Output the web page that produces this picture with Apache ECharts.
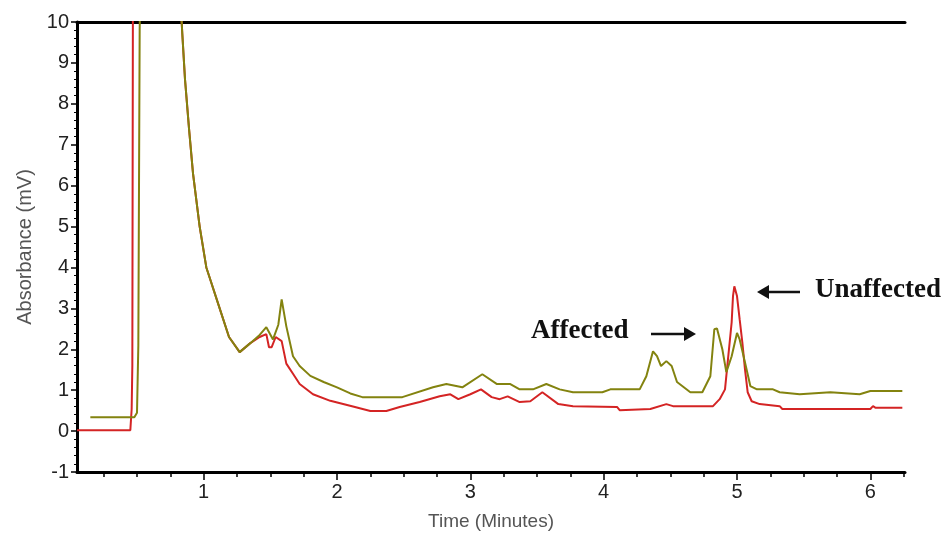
<!DOCTYPE html>
<html>
<head>
<meta charset="utf-8">
<title>Chromatogram</title>
<script src="https://cdn.jsdelivr.net/npm/echarts/dist/echarts.min.js"></script>
<style>
  html, body { margin: 0; padding: 0; background: #fff; }
</style>
</head>
<body>
<div id="main" style="width: 948px; height: 536px;"></div>
<script type="text/javascript">
// time (minutes) / absorbance (mV)
var greenTime = [0.15, 0.48, 0.50, 0.51, 0.52, 0.53, 0.82, 0.835, 0.84, 0.86, 0.89, 0.92, 0.97, 1.02, 1.05, 1.12, 1.19, 1.27, 1.35, 1.42, 1.47, 1.52, 1.56, 1.585, 1.62, 1.67, 1.72, 1.80, 1.90, 2.00, 2.10, 2.19, 2.49, 2.72, 2.82, 2.94, 3.09, 3.20, 3.30, 3.37, 3.47, 3.57, 3.67, 3.77, 3.99, 4.05, 4.27, 4.32, 4.37, 4.40, 4.43, 4.47, 4.51, 4.55, 4.65, 4.74, 4.80, 4.83, 4.85, 4.89, 4.92, 4.96, 5.00, 5.02, 5.06, 5.10, 5.15, 5.27, 5.32, 5.47, 5.70, 5.92, 6.00, 6.24];
var greenAbs  = [0.34, 0.34, 0.45, 2.1, 9.8, 12, 12, 10, 9.7, 8.6, 7.4, 6.3, 5.0, 4.0, 3.7, 3.0, 2.3, 1.93, 2.15, 2.35, 2.54, 2.24, 2.6, 3.22, 2.56, 1.83, 1.59, 1.35, 1.2, 1.07, 0.92, 0.83, 0.83, 1.07, 1.15, 1.07, 1.39, 1.15, 1.15, 1.02, 1.02, 1.15, 1.02, 0.95, 0.95, 1.02, 1.02, 1.34, 1.95, 1.83, 1.59, 1.71, 1.59, 1.2, 0.95, 0.95, 1.34, 2.49, 2.51, 2.0, 1.44, 1.83, 2.4, 2.24, 1.68, 1.1, 1.02, 1.02, 0.95, 0.9, 0.95, 0.9, 0.98, 0.98];

var redTime = [0.05, 0.45, 0.46, 0.465, 0.47, 0.82, 0.835, 0.84, 0.86, 0.89, 0.92, 0.97, 1.02, 1.05, 1.12, 1.19, 1.27, 1.35, 1.42, 1.47, 1.49, 1.51, 1.54, 1.585, 1.62, 1.67, 1.72, 1.82, 1.95, 2.12, 2.25, 2.37, 2.47, 2.62, 2.77, 2.85, 2.91, 3.00, 3.08, 3.16, 3.22, 3.28, 3.37, 3.45, 3.54, 3.66, 3.77, 4.10, 4.12, 4.35, 4.47, 4.52, 4.82, 4.87, 4.91, 4.93, 4.96, 4.97, 4.98, 5.00, 5.02, 5.04, 5.06, 5.08, 5.11, 5.17, 5.32, 5.34, 6.00, 6.02, 6.04, 6.24];
var redAbs  = [0.02, 0.02, 0.54, 1.6, 12, 12, 10, 9.7, 8.6, 7.4, 6.3, 5.0, 4.0, 3.7, 3.0, 2.3, 1.93, 2.15, 2.3, 2.37, 2.05, 2.05, 2.3, 2.2, 1.65, 1.4, 1.15, 0.9, 0.74, 0.6, 0.49, 0.49, 0.59, 0.71, 0.85, 0.9, 0.78, 0.9, 1.02, 0.83, 0.78, 0.85, 0.71, 0.73, 0.95, 0.66, 0.61, 0.59, 0.51, 0.54, 0.66, 0.61, 0.61, 0.78, 1.02, 1.68, 2.66, 3.3, 3.54, 3.3, 2.73, 2.17, 1.51, 0.95, 0.73, 0.66, 0.61, 0.54, 0.54, 0.61, 0.57, 0.57];

var xMajor = [1, 2, 3, 4, 5, 6];
var xMinor = [0.25, 0.5, 0.75, 1.25, 1.5, 1.75, 2.25, 2.5, 2.75, 3.25, 3.5, 3.75, 4.25, 4.5, 4.75, 5.25, 5.5, 5.75, 6.25];

function pairs(t, v) {
  var out = [];
  for (var i = 0; i < t.length; i++) {
    out.push([t[i], v[i]]);
  }
  return out;
}

var myChart = echarts.init(document.getElementById('main'));

var axisFont = { fontFamily: 'Liberation Sans, Arial', fontSize: 20, color: '#222' };

option = {
  animation: false,
  grid: { left: 77, right: 43, top: 22, bottom: 64 },
  xAxis: [{
    type: 'value',
    min: 0.05,
    max: 6.26,
    position: 'bottom',
    name: 'Time (Minutes)',
    nameLocation: 'middle',
    nameGap: 40,
    nameTextStyle: { fontFamily: 'Liberation Sans, Arial', fontSize: 19, color: '#555' },
    axisLine: { onZero: false, lineStyle: { color: '#000', width: 3 } },
    axisTick: { customValues: xMajor, length: 8, lineStyle: { color: '#000', width: 1.5 } },
    axisLabel: Object.assign({ customValues: xMajor, margin: 10 }, axisFont),
    splitLine: { show: false }
  }, {
    type: 'value',
    min: 0.05,
    max: 6.26,
    position: 'bottom',
    axisLine: { show: false, onZero: false },
    axisTick: { customValues: xMinor, length: 5, lineStyle: { color: '#000', width: 1.5 } },
    axisLabel: { show: false },
    splitLine: { show: false }
  }, {
    type: 'value',
    min: 0.05,
    max: 6.26,
    position: 'top',
    axisLine: { onZero: false, lineStyle: { color: '#000', width: 3 } },
    axisTick: { show: false },
    axisLabel: { show: false },
    splitLine: { show: false }
  }],
  yAxis: {
    type: 'value',
    min: -1,
    max: 10,
    interval: 1,
    name: 'Absorbance (mV)',
    nameLocation: 'middle',
    nameGap: 42,
    nameTextStyle: { fontFamily: 'Liberation Sans, Arial', fontSize: 20, color: '#555' },
    axisLine: { show: true, onZero: false, lineStyle: { color: '#000', width: 3 } },
    axisTick: { show: true, length: 6, lineStyle: { color: '#000', width: 1.5 } },
    minorTick: { show: true, splitNumber: 5, length: 3, lineStyle: { color: '#000', width: 1 } },
    axisLabel: Object.assign({ margin: 8 }, axisFont),
    splitLine: { show: false }
  },
  series: [{
    name: 'Red',
    type: 'line',
    xAxisIndex: 0,
    showSymbol: false,
    clip: true,
    lineStyle: { color: '#d42424', width: 2 },
    data: pairs(redTime, redAbs),
    z: 2
  }, {
    name: 'Green',
    type: 'line',
    xAxisIndex: 0,
    showSymbol: false,
    clip: true,
    lineStyle: { color: '#83830f', width: 2 },
    data: pairs(greenTime, greenAbs),
    z: 3
  }],
  graphic: [{
    type: 'text',
    left: 531,
    top: 318,
    style: { text: 'Affected', font: 'bold 27px "Liberation Serif", "Times New Roman", serif', fill: '#111' }
  }, {
    type: 'polyline',
    shape: { points: [[651, 334], [688, 334]] },
    style: { stroke: '#111', lineWidth: 2.5 }
  }, {
    type: 'polygon',
    shape: { points: [[696, 334], [684, 327], [684, 341]] },
    style: { fill: '#111' }
  }, {
    type: 'text',
    left: 815,
    top: 277,
    style: { text: 'Unaffected', font: 'bold 27px "Liberation Serif", "Times New Roman", serif', fill: '#111' }
  }, {
    type: 'polyline',
    shape: { points: [[800, 292], [765, 292]] },
    style: { stroke: '#111', lineWidth: 2.5 }
  }, {
    type: 'polygon',
    shape: { points: [[757, 292], [769, 285], [769, 299]] },
    style: { fill: '#111' }
  }]
};

myChart.setOption(option);
</script>
</body>
</html>
